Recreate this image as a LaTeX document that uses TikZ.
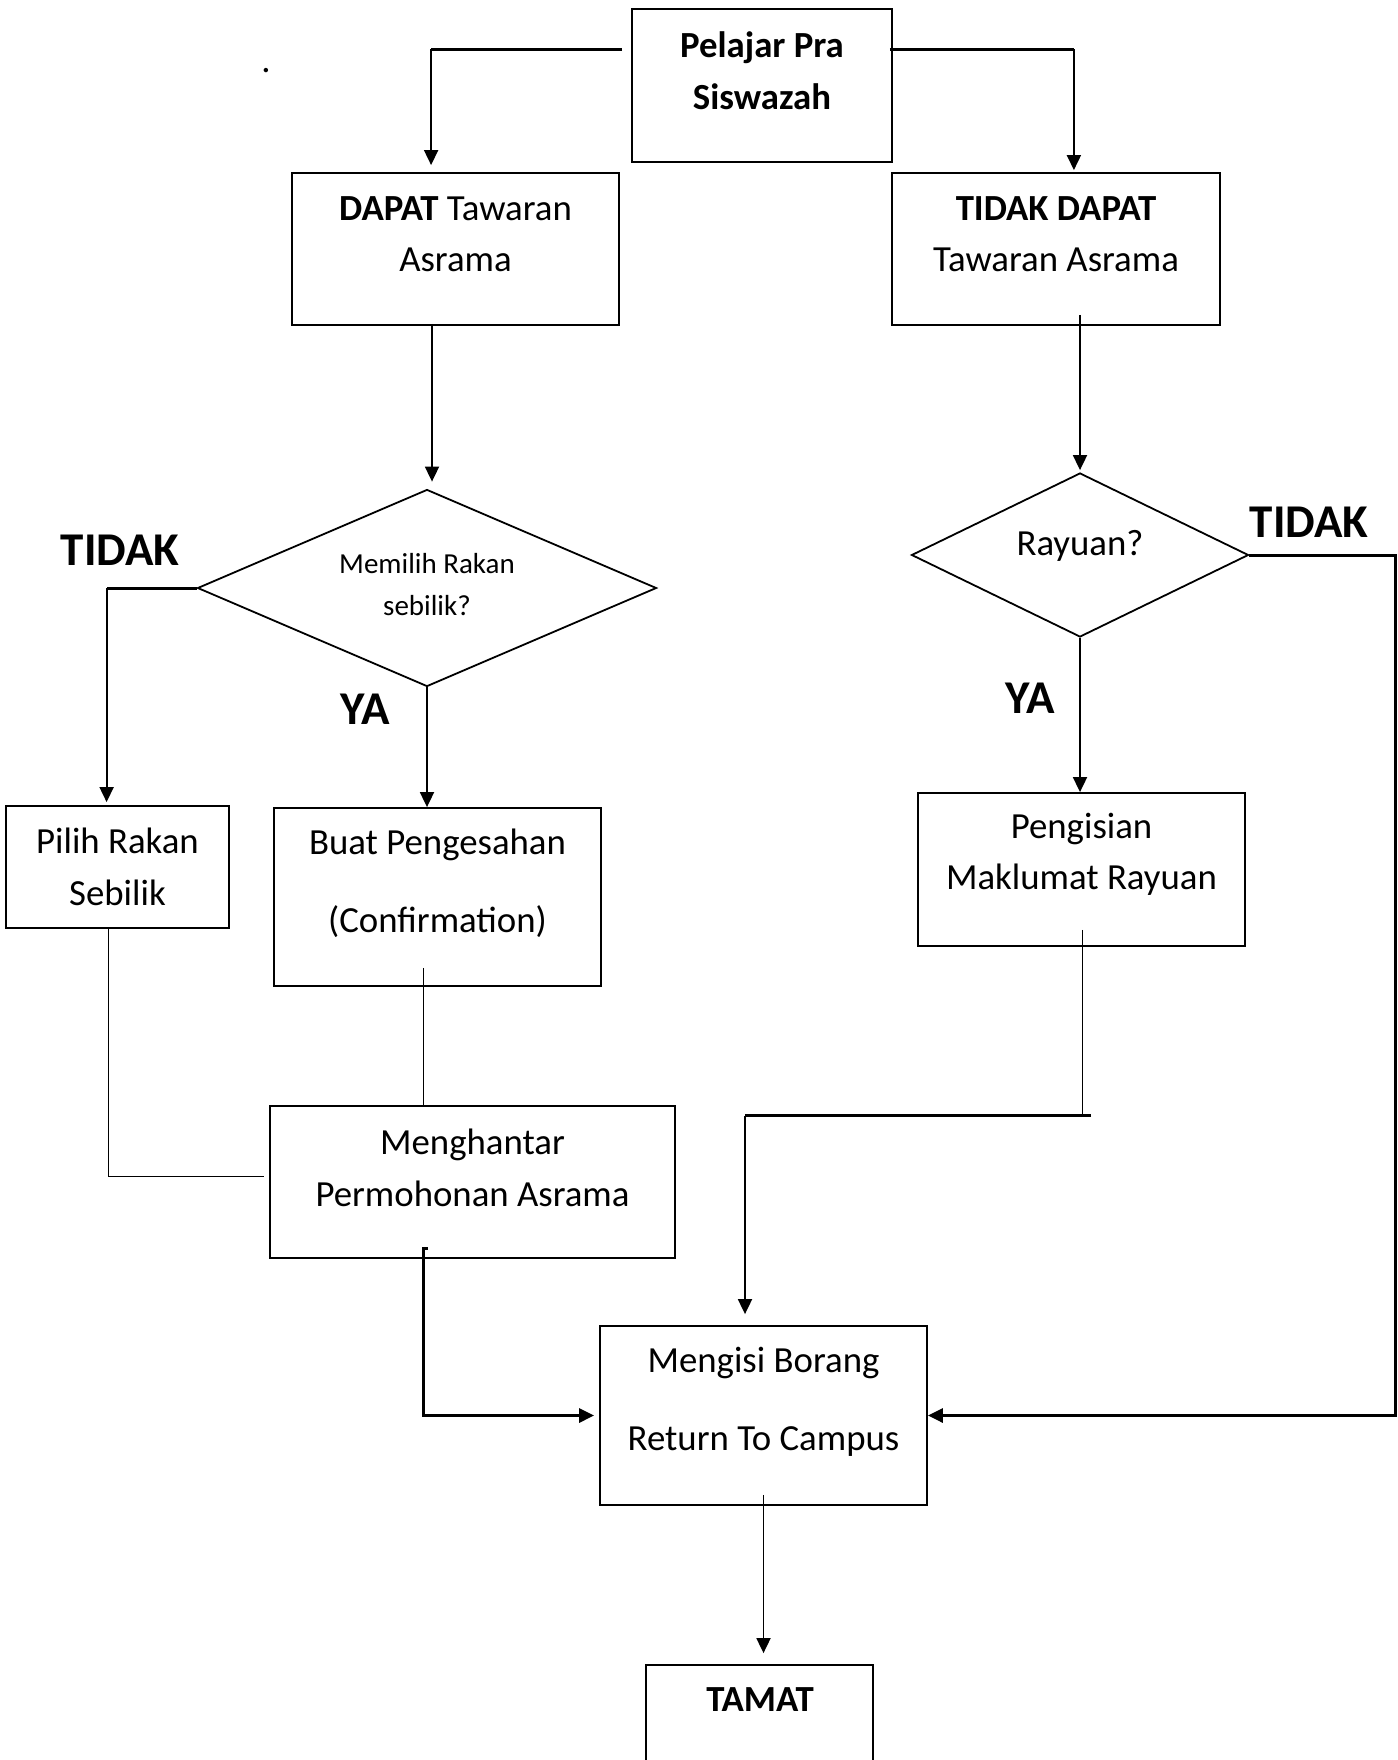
\documentclass[tikz,border=0pt]{standalone}
\usepackage{fontspec}
\setmainfont{Carlito}
\usetikzlibrary{shapes.geometric, arrows.meta}

\begin{document}
\begin{tikzpicture}[x = 0.5pt, y = -0.5pt,
	box/.style = {draw, line width = 0.9pt, inner sep = 0pt},
	dia/.style = {draw, diamond, line width = 0.9pt, inner sep = 0pt},
	txt/.style = {align = center, inner sep = 0pt, font = \fontsize{18.4}{25.7}\selectfont},
	lbl/.style = {inner sep = 0pt, font = \fontsize{23.5}{28}\selectfont\bfseries},
	arr/.style = {-{Triangle[length = 7.5pt, width = 7pt]}, line width = 0.9pt},
	thickln/.style = {line width = 1.5pt},
	thinln/.style = {line width = 0.5pt}]
	\useasboundingbox (0,0) rectangle (1397,1760);

	% boxes
	\node[box, minimum width = 130pt, minimum height = 76.5pt] (pelajar) at (762,85.5) {};
	\node[box, minimum width = 163.5pt, minimum height = 76pt] (dapat) at (455.5,249) {};
	\node[box, minimum width = 164pt, minimum height = 76pt] (tidakdapat) at (1056,249) {};
	\node[dia, minimum width = 229.5pt, minimum height = 98.5pt] (memilih) at (427,588) {};
	\node[dia, minimum width = 168.5pt, minimum height = 82pt] (rayuan) at (1080,555) {};
	\node[box, minimum width = 111.5pt, minimum height = 61pt] (pilih) at (117.5,867) {};
	\node[box, minimum width = 163.5pt, minimum height = 89pt] (buat) at (437.5,897) {};
	\node[box, minimum width = 163.5pt, minimum height = 76.5pt] (pengisian) at (1081.5,869.5) {};
	\node[box, minimum width = 202.5pt, minimum height = 76pt] (menghantar) at (472.5,1182) {};
	\node[box, minimum width = 163.5pt, minimum height = 89.5pt] (mengisi) at (763.5,1415.5) {};
	\node[box, minimum width = 113.5pt, minimum height = 100pt] (tamat) at (759.5,1765) {};

	% texts
	\node[txt, font = \fontsize{18.4}{25.7}\selectfont\bfseries] (pelajarT) at (762,70.7) {Pelajar Pra\\Siswazah};
	\node[txt] (dapatT) at (455.5,234.5) {\textbf{DAPAT} Tawaran\\Asrama};
	\node[txt] (tidakdapatT) at (1056,234) {\textbf{TIDAK DAPAT}\\Tawaran Asrama};
	\node[txt, font = \fontsize{14.5}{21}\selectfont] (memilihT) at (427,585) {Memilih Rakan\\sebilik?};
	\node[txt] (rayuanT) at (1080,546) {Rayuan?};
	\node[txt] (pilihT) at (117.5,867) {Pilih Rakan\\Sebilik};
	\node[txt] (buatT) at (437.5,883) {Buat Pengesahan\\[13.3pt](Confirmation)};
	\node[txt] (pengisianT) at (1081.5,854.5) {Pengisian\\Maklumat Rayuan};
	\node[txt] (menghantarT) at (472.5,1168) {Menghantar\\Permohonan Asrama};
	\node[txt] (mengisiT) at (763.5,1401.5) {Mengisi Borang\\[13.5pt]Return To Campus};
	\node[txt, font = \fontsize{18.4}{25.7}\selectfont\bfseries] (tamatT) at (760,1700) {TAMAT};
	\node[txt] (dot) at (266,71) {.};

	% labels
	\node[lbl] (tidakL) at (120,550) {TIDAK};
	\node[lbl] (yaL) at (365,709) {YA};
	\node[lbl] (tidakR) at (1309,522) {TIDAK};
	\node[lbl] (yaR) at (1030,698) {YA};

	% connectors
	\draw[thickln] ([xshift = -4.5pt, yshift = -20.5pt]pelajar.north west) -- ++(-191,0) coordinate (c1);
	\draw[arr] (c1) -- ([yshift = 3.5pt]c1 |- dapat.north);
	\draw[thickln] ([xshift = -1.5pt, yshift = -20.5pt]pelajar.north east) -- ++(184,0) coordinate (c2);
	\draw[arr] (c2) -- ([yshift = 1pt]c2 |- tidakdapat.north);
	\draw[arr] ([xshift = -11.75pt, yshift = 1pt]dapat.south) -- ([xshift = -11.75pt, yshift = 3.5pt]dapat.south |- memilih.north);
	\draw[thickln] (memilih.west) -- ++(-90,0) coordinate (c3);
	\draw[arr] (c3) -- ([yshift = 1.5pt]c3 |- pilih.north);
	\draw[arr] (memilih.south) -- (memilih.south |- buat.north);
	\draw[arr] ([xshift = 12pt, yshift = 5.5pt]tidakdapat.south) -- ([xshift = 12pt, yshift = 1pt]tidakdapat.south |- rayuan.north);
	\draw[arr] (rayuan.south) -- (rayuan.south |- pengisian.north);
	\draw[thickln, arr, line width = 1.5pt] (rayuan.east) -- ++(146,0) coordinate (c4) -- (c4 |- mengisi.east) -- (mengisi.east);
	\draw[thinln] ([xshift = -4.75pt]pilih.south) |- ([xshift = -2.5pt, yshift = 3pt]menghantar.west);
	\draw[thinln] ([xshift = -7.25pt, yshift = 9.5pt]buat.south) -- ([xshift = -7.25pt]buat.south |- menghantar.north);
	\draw[thinln] ([xshift = 0.25pt, yshift = 8.5pt]pengisian.south) -- ++(0,186) coordinate (c5);
	\draw[thickln] ([xshift = 4.5pt]c5) -- ++(-346,0) coordinate (c6);
	\draw[arr] (c6) -- ([yshift = 5.5pt]c6 |- mengisi.north);
	\draw[arr, line width = 1.5pt] ([xshift = -22.25pt, yshift = 5pt]menghantar.south) -- ++(-5,0) |- ([xshift = -2.5pt]mengisi.west);
	\draw[arr] ([yshift = 5.5pt]mengisi.south) -- ([yshift = 5.5pt]mengisi.south |- tamat.north);
\end{tikzpicture}
\end{document}
